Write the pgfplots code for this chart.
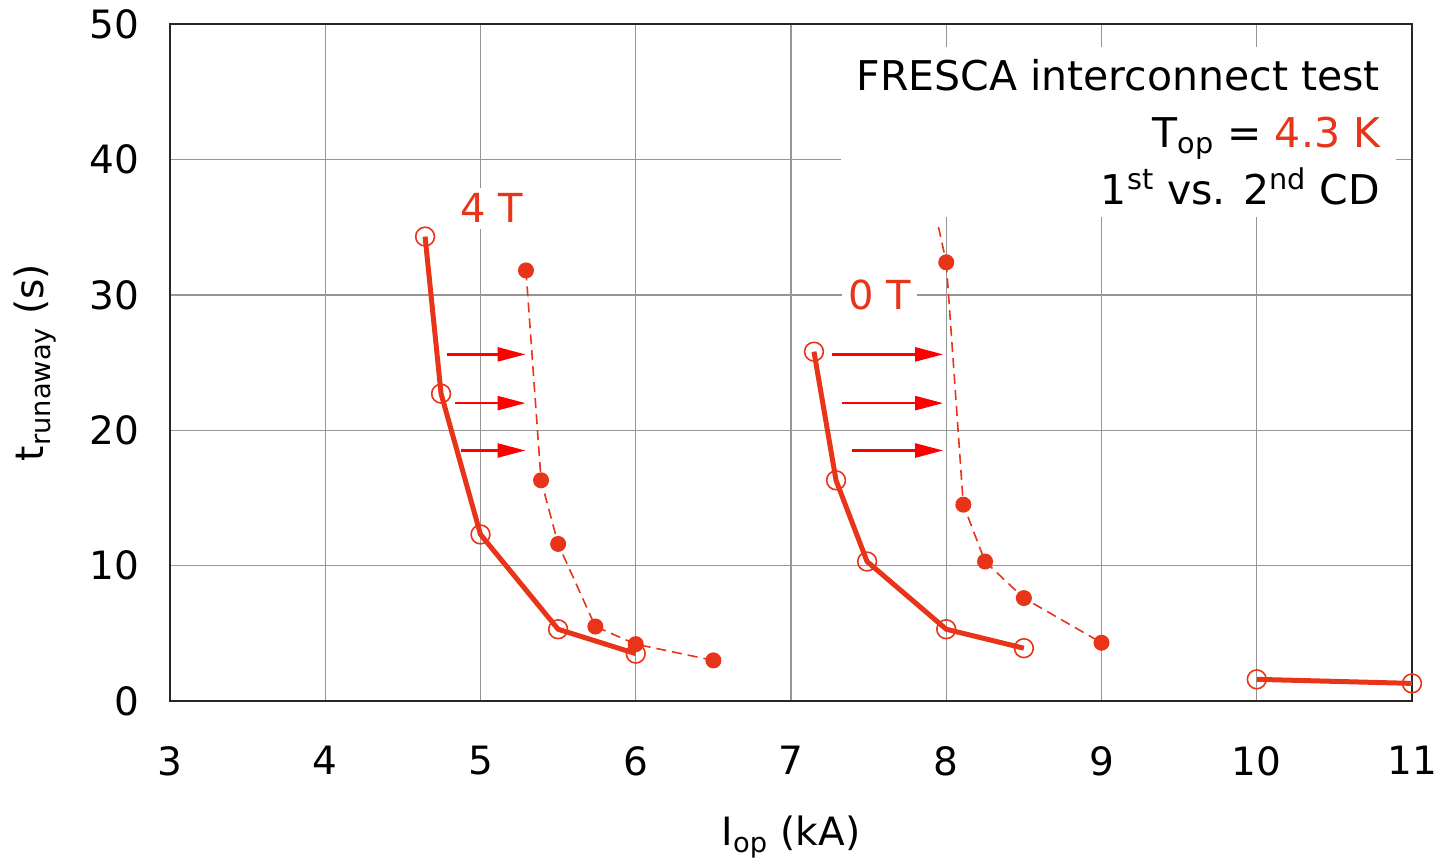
\documentclass[border=0pt]{standalone}
\usepackage{pgfplots}
\pgfplotsset{compat=1.18}
\usepackage{fontspec}
\setmainfont{DejaVu Sans}
\usetikzlibrary{arrows.meta}
\definecolor{dred}{RGB}{232,52,24}
\definecolor{gridgray}{RGB}{150,150,150}
\begin{document}
\begin{tikzpicture}
\useasboundingbox (-85pt,-80.5pt) rectangle (634.5pt,350.5pt);
\begin{axis}[
  at={(0,0)}, anchor=south west,
  scale only axis, width=621pt, height=338.5pt,
  xmin=3, xmax=11, ymin=0, ymax=50,
  xtick={3,4,...,11}, ytick={0,10,...,50},
  grid=major, major grid style={gridgray, line width=0.7pt},
  axis line style={black!85, line width=0.8pt},
  major tick length=0pt,
  font=\fontsize{19.5}{23}\selectfont,
  /pgf/number format/assume math mode=true,
  xticklabel style={yshift=-19pt},
  yticklabel style={xshift=-12pt},
  xlabel={I\textsubscript{op} (kA)},
  ylabel={t\textsubscript{runaway} (s)},
  xlabel style={at={(axis description cs:0.5,-0.2009)}, anchor=center},
  ylabel style={at={(axis description cs:-0.1087,0.5)}, anchor=center},
  clip=false,
]
% 4 T, first CD
\addplot[dred, line width=2.5pt, mark=o, mark size=4.7pt, mark options={solid, line width=0.8pt}]
  coordinates {(4.643,34.3) (4.746,22.7) (5.0,12.3) (5.5,5.3) (6.0,3.5)};
% 4 T, second CD
\addplot[dred, line width=0.8pt, dash pattern=on 5pt off 3pt, mark=*, mark size=3.6pt, mark options={solid}]
  coordinates {(5.293,31.8) (5.39,16.3) (5.5,11.6) (5.74,5.5) (6.0,4.2) (6.5,3.0)};
% 0 T, first CD
\addplot[dred, line width=2.5pt, mark=o, mark size=4.7pt, mark options={solid, line width=0.8pt}]
  coordinates {(7.148,25.8) (7.29,16.3) (7.49,10.3) (8.0,5.3) (8.5,3.9)};
% 0 T, second CD
\addplot[dred, line width=0.8pt, dash pattern=on 5pt off 3pt]
  coordinates {(7.95,35.0) (8.0,32.4)};
\addplot[dred, line width=0.8pt, dash pattern=on 5pt off 3pt, mark=*, mark size=3.6pt, mark options={solid}]
  coordinates {(8.0,32.4) (8.11,14.5) (8.25,10.3) (8.5,7.6) (9.0,4.3)};
% high current
\addplot[dred, line width=2.5pt, mark=o, mark size=4.7pt, mark options={solid, line width=0.8pt}]
  coordinates {(10.0,1.6) (11.0,1.3)};
% arrows
\draw[red, line width=1.2pt, -{Triangle[length=14pt,width=7pt]}] (axis cs:4.784,25.6) -- (axis cs:5.29,25.6);
\draw[red, line width=1.2pt, -{Triangle[length=14pt,width=7pt]}] (axis cs:4.836,22.0) -- (axis cs:5.29,22.0);
\draw[red, line width=1.2pt, -{Triangle[length=14pt,width=7pt]}] (axis cs:4.874,18.5) -- (axis cs:5.29,18.5);
\draw[red, line width=1.2pt, -{Triangle[length=14pt,width=7pt]}] (axis cs:7.264,25.6) -- (axis cs:7.98,25.6);
\draw[red, line width=1.2pt, -{Triangle[length=14pt,width=7pt]}] (axis cs:7.33,22.0) -- (axis cs:7.98,22.0);
\draw[red, line width=1.2pt, -{Triangle[length=14pt,width=7pt]}] (axis cs:7.39,18.5) -- (axis cs:7.98,18.5);
% labels
\node[fill=white, text=dred, inner sep=3pt, font=\fontsize{20}{24}\selectfont] at (axis cs:5.07,36.4) {4 T};
\node[fill=white, text=dred, inner sep=3pt, font=\fontsize{20}{24}\selectfont] at (axis cs:7.57,30.0) {0 T};
\node[fill=white, anchor=north east, align=right, inner xsep=8pt, inner ysep=6pt,
      font=\fontsize{20.5}{28.5}\selectfont] at (axis cs:10.90,48.3)
  {FRESCA interconnect test\\ T\textsubscript{op} = \textcolor{dred}{4.3 K}\\ 1\textsuperscript{st} vs. 2\textsuperscript{nd} CD};
\end{axis}
\end{tikzpicture}
\end{document}
